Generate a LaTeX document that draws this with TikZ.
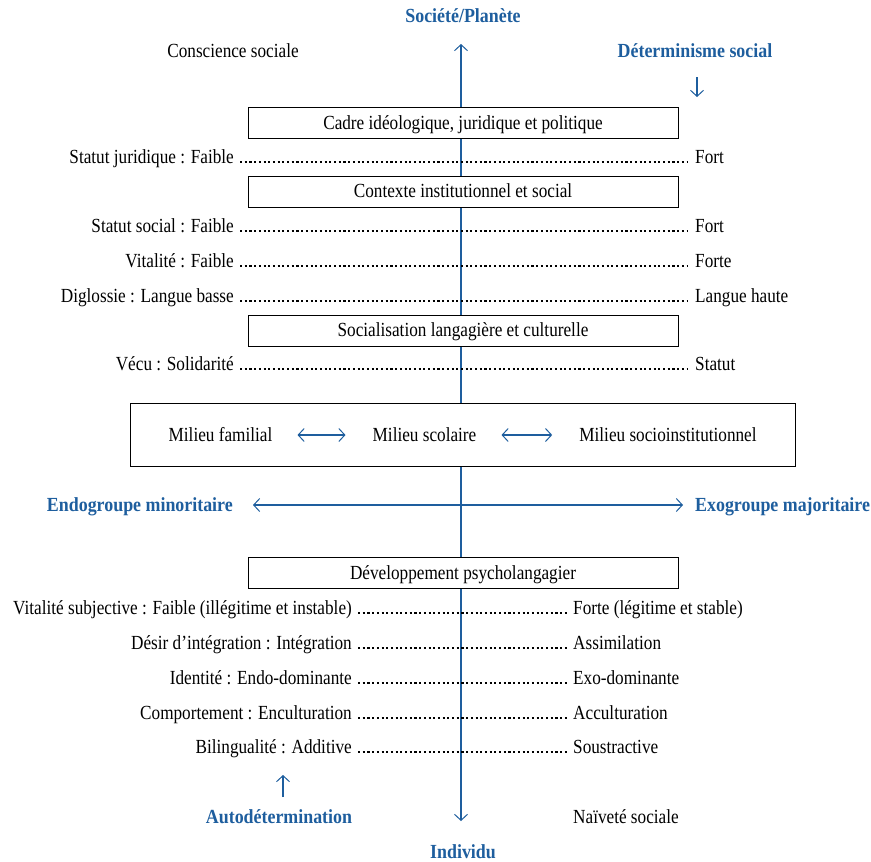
\documentclass[tikz,border=0pt]{standalone}
\usepackage{fontspec}
\setmainfont{Liberation Serif}[FakeStretch=0.86,BoldFeatures={FakeStretch=0.895}]
\usetikzlibrary{arrows.meta}
\definecolor{fblue}{RGB}{30,94,158}
\tikzset{barb/.tip={Straight Barb[length=6pt,width=13pt,line width=1pt]}}
\begin{document}
\begin{tikzpicture}[x=1pt,y=-1pt,
  font=\fontsize{20}{24}\selectfont,
  lt/.style={inner sep=0pt},
  bt/.style={inner sep=0pt,text=fblue,font=\fontsize{20}{24}\selectfont\bfseries},
  boxn/.style={draw=black,line width=0.9pt,fill=white,minimum width=430pt,minimum height=31pt,inner sep=0pt,text height=15pt,text depth=3pt},
  dotl/.style={line width=2.3pt,dash pattern=on 2.1pt off 2.6pt},
  bar/.style={draw=fblue,line width=1.1pt}]
\useasboundingbox (0,0) rectangle (871,862);
% axis
\coordinate (atop) at (461,44);
\coordinate (abot) at (461,821);
\draw[bar,barb-barb] (atop) -- (abot);
% top labels
\node[bt,anchor=base] (soc) at (463,23) {Société/Planète};
\node[lt,anchor=base] (cons) at (233,57) {Conscience sociale};
\node[bt,anchor=base] (det) at (695,57) {Déterminisme social};
\coordinate (d1) at (697,77);
\coordinate (d2) at (697,97);
\draw[bar,-barb] (d1) -- (d2);
% boxes
\node[boxn] (b1) at (463,123) {Cadre idéologique, juridique et politique};
\node[boxn] (b2) at (463,191.5) {Contexte institutionnel et social};
\node[boxn] (b3) at (463,330.5) {Socialisation langagière et culturelle};
\node[boxn] (b4) at (463,573) {Développement psycholangagier};
\node[boxn,minimum width=665pt,minimum height=63pt] (big) at (462.5,434.5) {};
% upper scales
\foreach \n/\y/\l/\r in {1/163/Statut juridique : Faible/Fort,
                         2/232/Statut social : Faible/Fort,
                         3/267/Vitalité : Faible/Forte,
                         4/302/Diglossie : Langue basse/Langue haute,
                         5/370/Vécu : Solidarité/Statut}{
  \node[lt,anchor=base east] (ul\n) at (234,\y) {\l};
  \node[lt,anchor=base west] (ur\n) at (695,\y) {\r};
  \draw[dotl,shorten <=6pt,shorten >=7pt] ([yshift=1pt]ul\n.base east) -- ([yshift=1pt]ur\n.base west);
}
% milieux
\node[lt,anchor=base] (m1) at (220.5,441) {Milieu familial};
\node[lt,anchor=base] (m2) at (424.5,441) {Milieu scolaire};
\node[lt,anchor=base] (m3) at (668,441) {Milieu socioinstitutionnel};
\draw[bar,barb-barb,shorten <=25pt,shorten >=27pt] ([yshift=6pt]m1.base east) -- ([yshift=6pt]m2.base west);
\draw[bar,barb-barb,shorten <=25pt,shorten >=27pt] ([yshift=6pt]m2.base east) -- ([yshift=6pt]m3.base west);
% groups
\node[bt,anchor=base east] (endo) at (233,511) {Endogroupe minoritaire};
\node[bt,anchor=base west] (exo) at (695,511) {Exogroupe majoritaire};
\draw[bar,barb-barb,shorten <=20pt,shorten >=12pt] ([yshift=6pt]endo.base east) -- ([yshift=6pt]exo.base west);
% lower scales
\foreach \n/\y/\l/\r in {1/614/Vitalité subjective : Faible (illégitime et instable)/Forte (légitime et stable),
                         2/649/Désir d’intégration : Intégration/Assimilation,
                         3/684/Identité : Endo-dominante/Exo-dominante,
                         4/719/Comportement : Enculturation/Acculturation,
                         5/753/Bilingualité : Additive/Soustractive}{
  \node[lt,anchor=base east] (ll\n) at (352,\y) {\l};
  \node[lt,anchor=base west] (lr\n) at (573,\y) {\r};
  \draw[dotl,shorten <=6pt,shorten >=5pt] ([yshift=1pt]ll\n.base east) -- ([yshift=1pt]lr\n.base west);
}
% bottom
\coordinate (u1) at (283,797);
\coordinate (u2) at (283,775);
\draw[bar,-barb] (u1) -- (u2);
\node[bt,anchor=base] (auto) at (279,823) {Autodétermination};
\node[lt,anchor=base west] (naiv) at (573,823) {Naïveté sociale};
\node[bt,anchor=base] (indiv) at (463,858) {Individu};
\end{tikzpicture}
\end{document}
